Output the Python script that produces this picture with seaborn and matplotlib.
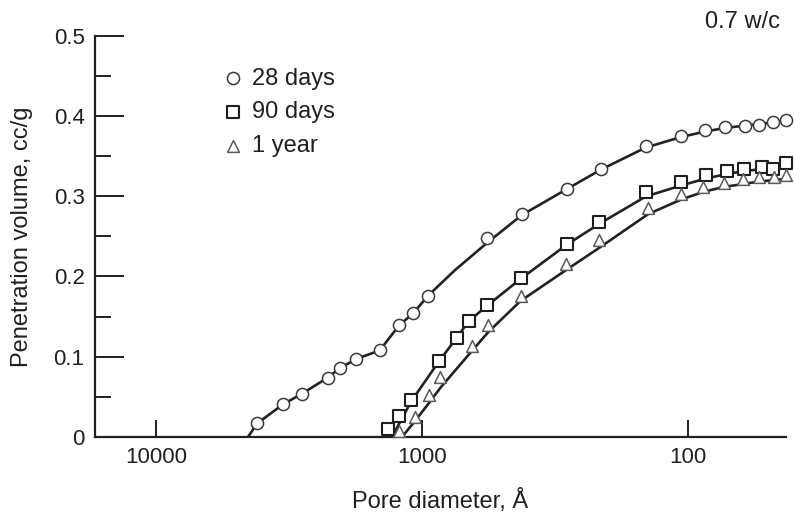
import matplotlib
matplotlib.use("Agg")
import matplotlib.pyplot as plt
from matplotlib.ticker import FixedLocator, NullLocator, MultipleLocator
import pandas as pd
import seaborn as sns

# Mercury intrusion, 0.7 w/c paste: pore diameter (Å) vs penetration volume (cc/g)
series_labels = ["28 days", "90 days", "1 year"]

d_28 = [4160, 3320, 2820, 2260, 2030, 1770, 1440, 1220, 1080, 949, 568, 422,
        286, 213, 144, 106, 86.1, 72.8, 60.8, 54.0, 48.1, 42.8]
v_28 = [0.017, 0.041, 0.054, 0.074, 0.086, 0.097, 0.108, 0.139, 0.154, 0.176,
        0.248, 0.2775, 0.309, 0.334, 0.362, 0.375, 0.382, 0.386, 0.387, 0.389,
        0.393, 0.395]

d_90 = [1340, 1220, 1095, 861, 739, 666, 568, 426, 285, 216, 144, 106.5, 85.8,
        71.5, 61.3, 52.9, 48.0, 42.8]
v_90 = [0.010, 0.026, 0.046, 0.095, 0.123, 0.145, 0.164, 0.198, 0.241, 0.268,
        0.305, 0.318, 0.326, 0.331, 0.3345, 0.337, 0.3345, 0.341]

d_1y = [1217, 1062, 941, 852, 649, 563, 426, 287, 216, 141, 106.5, 87.8, 73.5,
        62.0, 54.0, 47.3, 42.8]
v_1y = [0.008, 0.025, 0.052, 0.075, 0.113, 0.139, 0.176, 0.216, 0.2455, 0.285,
        0.303, 0.3115, 0.317, 0.321, 0.324, 0.324, 0.326]

# Smooth fitted curves drawn through the data
fit_d_28 = [4510, 4160, 3320, 2820, 2260, 2030, 1770, 1440, 1220, 1080, 949, 751,
            570, 421, 285, 212, 144, 106, 86.3, 72.6, 60.5, 53.6, 47.9, 42.8]
fit_v_28 = [0.0, 0.017, 0.041, 0.054, 0.074, 0.086, 0.097, 0.108, 0.139, 0.154,
            0.176, 0.208, 0.2417, 0.2766, 0.309, 0.3333, 0.3607, 0.3738, 0.3806,
            0.385, 0.3881, 0.390, 0.3919, 0.3937]

fit_d_90 = [1297, 1220, 1095, 861, 739, 666, 568, 426, 285, 216, 144, 106, 85.5,
            71.4, 61.0, 52.7, 47.9, 42.8]
fit_v_90 = [0.0, 0.0162, 0.0449, 0.0947, 0.124, 0.1445, 0.1638, 0.1969, 0.2398,
            0.2654, 0.2997, 0.3134, 0.3221, 0.3277, 0.3314, 0.3339, 0.3352, 0.337]

fit_d_1y = [1189, 1062, 941, 848, 649, 563, 426, 287, 216, 141, 106, 87.8, 73.5,
            62.0, 54.0, 47.3, 42.8]
fit_v_1y = [0.0, 0.0199, 0.0424, 0.0623, 0.1072, 0.1308, 0.1695, 0.2081, 0.2355,
            0.2778, 0.2959, 0.3053, 0.3115, 0.3152, 0.3183, 0.3202, 0.3215]

x_ticks = [10000, 1000, 100]
x_tick_labels = ["10000", "1000", "100"]
y_ticks = [0.0, 0.1, 0.2, 0.3, 0.4, 0.5]
y_tick_labels = ["0", "0.1", "0.2", "0.3", "0.4", "0.5"]

sns.set_theme(style="ticks")
plt.rcParams["font.family"] = ["Liberation Sans", "DejaVu Sans"]
ink = "#231f20"
plt.rcParams.update({
    "text.color": ink,
    "axes.labelcolor": ink,
    "xtick.color": ink,
    "ytick.color": ink,
    "axes.edgecolor": ink,
})
fs_tick = 16
fs = 17

fig = plt.figure(figsize=(7.94, 5.17), dpi=100)
ax = fig.add_axes([95 / 794, 1 - 437 / 517, 691 / 794, 401.3 / 517])

styles = [
    dict(d=d_28, v=v_28, fd=fit_d_28, fv=fit_v_28, marker="o", s=76, ec="#3a3a3a", lw=1.1),
    dict(d=d_90, v=v_90, fd=fit_d_90, fv=fit_v_90, marker="s", s=64, ec="#1e1e1e", lw=1.5),
    dict(d=d_1y, v=v_1y, fd=fit_d_1y, fv=fit_v_1y, marker="^", s=72, ec="#5a5a5a", lw=1.1),
]

for label, st in zip(series_labels, styles):
    fit = pd.DataFrame({"diameter": st["fd"], "volume": st["fv"]})
    sns.lineplot(data=fit, x="diameter", y="volume", ax=ax, color="#222222",
                 linewidth=1.9, sort=False, estimator=None, zorder=3)

for label, st in zip(series_labels, styles):
    pts = pd.DataFrame({"diameter": st["d"], "volume": st["v"]})
    sns.scatterplot(data=pts, x="diameter", y="volume", ax=ax, marker=st["marker"],
                    s=st["s"], facecolor="white", edgecolor=st["ec"],
                    linewidth=st["lw"], label=label, zorder=4, clip_on=False)

ax.set_xscale("log")
ax.set_xlim(16950, 42.8)
ax.set_ylim(0, 0.5)
ax.xaxis.set_major_locator(FixedLocator(x_ticks))
ax.xaxis.set_minor_locator(NullLocator())
ax.set_xticklabels(x_tick_labels)
ax.yaxis.set_major_locator(FixedLocator(y_ticks))
ax.set_yticklabels(y_tick_labels)
ax.yaxis.set_minor_locator(MultipleLocator(0.05))

ax.tick_params(axis="x", which="major", direction="in", length=12, width=1.4,
               labelsize=fs_tick, pad=7)
ax.tick_params(axis="y", which="major", direction="in", length=21, width=1.4,
               labelsize=fs_tick, pad=7.5)
ax.tick_params(axis="y", which="minor", direction="in", length=11.5, width=1.4)

sns.despine(ax=ax)
for side in ("left", "bottom"):
    ax.spines[side].set_linewidth(1.6)
    ax.spines[side].set_zorder(2)

ax.set_xlabel("Pore diameter, Å", fontsize=fs)
ax.set_ylabel("Penetration volume, cc/g", fontsize=fs)
ax.xaxis.set_label_coords(0.5, -0.16)
ax.yaxis.set_label_coords(-0.106, 0.5)
ax.xaxis.label.set_va("center")
ax.yaxis.label.set_va("center")

leg = ax.legend(loc="upper left", bbox_to_anchor=(0.186, 0.9205), frameon=False,
                fontsize=fs, handlelength=0.8, handletextpad=0.41,
                labelspacing=0.49, borderpad=0, borderaxespad=0)

fig.text(780 / 794, 1 - 22 / 517, "0.7 w/c", ha="right", va="center", fontsize=fs)

fig.savefig("out.png", dpi=100)
